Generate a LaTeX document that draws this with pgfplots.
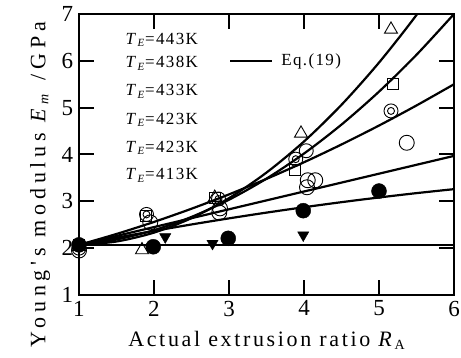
\documentclass[border=0pt]{standalone}
\usepackage{fontspec}
\setmainfont{Liberation Serif}
\newfontfamily\lsfont[LetterSpace=12]{Liberation Serif}
\newfontfamily\ysfont[LetterSpace=22]{Liberation Serif}
\newfontfamily\lgfont[LetterSpace=8]{Liberation Serif}
\usepackage{pgfplots}
\pgfplotsset{compat=1.18}
\newcommand{\TE}{\textit{T}\raisebox{-0.35ex}{\fontsize{11bp}{12bp}\selectfont\textit{E}}}
\begin{document}
\fontsize{20bp}{24bp}\selectfont
\begin{tikzpicture}
\begin{axis}[
  name=ax,
  scale only axis,
  width=375bp, height=281bp,
  xmin=1, xmax=6, ymin=1, ymax=7,
  xtick={1,2,3,4,5,6}, ytick={1,2,3,4,5,6,7},
  tick align=inside,
  major tick length=15bp,
  axis line style={line width=2bp},
  every tick/.style={black, line width=2bp},
  tick label style={font=\fontsize{23bp}{26bp}\selectfont},
  xticklabel style={yshift=1bp},
  yticklabel style={xshift=1bp},
  /pgf/number format/assume math mode=true,
  xlabel={\lsfont Actual extrusion ratio \textit{R}\raisebox{-0.3ex}{\fontsize{14bp}{15bp}\selectfont A}},
  ylabel={\ysfont Young's modulus \textit{E}\raisebox{-0.3ex}{\fontsize{14bp}{15bp}\selectfont\textit{m}} /GPa},
  xlabel style={font=\fontsize{22bp}{26bp}\selectfont, yshift=-1bp},
  ylabel style={font=\fontsize{22bp}{26bp}\selectfont, yshift=-2bp, xshift=-30bp},
  clip=true,
  legend style={draw=none, fill=none, font=\fontsize{17bp}{20bp}\selectfont, at={(0.40,0.833)}, anchor=west, inner sep=0pt},
  legend cell align=left,
  legend image code/.code={\draw[line width=2.2bp] (0bp,0bp) -- (42bp,0bp);},
]
% Eq.(19) curves
\addplot[black, line width=2.2bp] coordinates {(1,2.07) (6,2.07)};
\addlegendentry{\hspace{6bp}\lgfont Eq.(19)}
\addplot[black, line width=2.2bp, smooth, forget plot] coordinates {
(1,2.07) (1.5,2.223) (2,2.368) (2.5,2.506) (3,2.636) (3.5,2.759) (4,2.874) (4.5,2.982) (5,3.082) (5.5,3.175) (6,3.26)};
\addplot[black, line width=2.2bp, smooth, forget plot] coordinates {
(1,2.07) (2,2.45) (3,2.83) (4,3.21) (5,3.59) (6,3.97)};
\addplot[black, line width=2.2bp, smooth, forget plot] coordinates {
(1,2.07) (1.5,2.303) (2,2.56) (2.5,2.842) (3,3.148) (3.5,3.479) (4,3.834) (4.5,4.214) (5,4.618) (5.5,5.047) (6,5.50)};
\addplot[black, line width=2.2bp, smooth, forget plot] coordinates {
(1,2.07) (1.5,2.185) (2,2.384) (2.5,2.667) (3,3.034) (3.5,3.485) (4,4.02) (4.5,4.639) (5,5.342) (5.5,6.129) (6,7.0)};
\addplot[black, line width=2.2bp, smooth, forget plot] coordinates {
(1,2.07) (1.5,2.142) (2,2.332) (2.5,2.641) (3,3.068) (3.5,3.614) (4,4.278) (4.5,5.061) (5,5.962) (5.5,6.98) (5.75,7.6)};
% data points
\addplot[only marks, mark=triangle, mark size=7.5bp, black, line width=0.9bp, forget plot] coordinates {
(1,2.07) (1.84,1.96) (2.81,3.08) (3.96,4.45) (5.16,6.67)};
\addplot[only marks, mark=square, mark size=5.5bp, black, line width=0.9bp, forget plot] coordinates {
(1,2.07) (1.89,2.68) (2.81,3.07) (3.88,3.68) (5.18,5.5)};
\addplot[only marks, mark=o, mark size=7bp, black, line width=0.9bp, forget plot] coordinates {
(1,2.0) (1.9,2.72) (2.86,3.05) (3.89,3.9) (4.03,4.08) (5.16,4.93)};
\addplot[only marks, mark=o, mark size=3.5bp, black, line width=0.9bp, forget plot] coordinates {
(1,2.0) (1.9,2.72) (2.86,3.05) (3.89,3.9) (5.16,4.93)};
\addplot[only marks, mark=o, mark size=7.5bp, black, line width=0.9bp, forget plot] coordinates {
(1,1.95) (1.95,2.55) (2.88,2.85) (2.87,2.76) (4.05,3.45) (4.15,3.45) (4.04,3.3) (5.37,4.25)};
\addplot[only marks, mark=*, mark size=7.5bp, black, forget plot] coordinates {
(1,2.07) (1.99,2.03) (2.99,2.21) (3.99,2.80) (5.0,3.22)};
\addplot[only marks, mark=triangle*, mark size=6.5bp, mark options={rotate=180}, black, forget plot] coordinates {
(1,2.05) (2.15,2.24) (2.78,2.10) (3.99,2.28)};
% legend text
\node[anchor=west, font=\fontsize{17bp}{20bp}\lgfont, inner sep=0pt] at (axis cs:1.62,6.45) {\TE=443K};
\node[anchor=west, font=\fontsize{17bp}{20bp}\lgfont, inner sep=0pt] at (axis cs:1.62,5.94) {\TE=438K};
\node[anchor=west, font=\fontsize{17bp}{20bp}\lgfont, inner sep=0pt] at (axis cs:1.62,5.34) {\TE=433K};
\node[anchor=west, font=\fontsize{17bp}{20bp}\lgfont, inner sep=0pt] at (axis cs:1.62,4.74) {\TE=423K};
\node[anchor=west, font=\fontsize{17bp}{20bp}\lgfont, inner sep=0pt] at (axis cs:1.62,4.14) {\TE=423K};
\node[anchor=west, font=\fontsize{17bp}{20bp}\lgfont, inner sep=0pt] at (axis cs:1.62,3.55) {\TE=413K};
\end{axis}
\pgfresetboundingbox
\path ([shift={(-79bp,-63bp)}]ax.south west) rectangle ([shift={(7bp,14bp)}]ax.north east);
\end{tikzpicture}
\end{document}
